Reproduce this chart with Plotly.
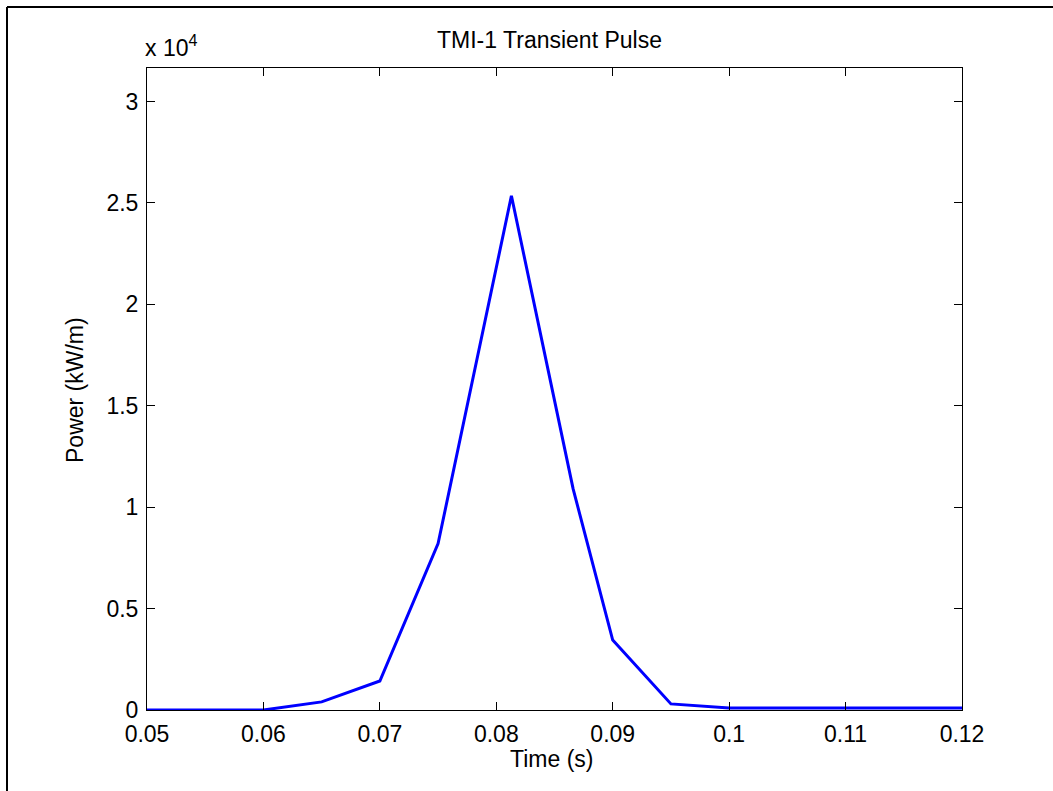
import plotly.graph_objects as go

# Data
time_s = [0.05, 0.06, 0.065, 0.07, 0.075, 0.0813, 0.0866, 0.09, 0.095, 0.1, 0.12]
power_kw_m = [0, 0, 400, 1430, 8200, 25350, 10900, 3450, 300, 100, 100]

x_ticks = [0.05, 0.06, 0.07, 0.08, 0.09, 0.10, 0.11, 0.12]
x_tick_text = ["0.05", "0.06", "0.07", "0.08", "0.09", "0.1", "0.11", "0.12"]
y_ticks = [0, 5000, 10000, 15000, 20000, 25000, 30000]
y_tick_text = ["0", "0.5", "1", "1.5", "2", "2.5", "3"]

W, H = 1053, 791
L, R, T, B = 147, 962, 68, 710

font = "Liberation Sans, Arial, Helvetica, sans-serif"
FS = 23

fig = go.Figure()
fig.add_trace(go.Scatter(x=time_s, y=power_kw_m, mode="lines",
                         line=dict(color="#0000FF", width=3),
                         showlegend=False))

axis_common = dict(showgrid=False, zeroline=False, showline=True,
                   linecolor="black", linewidth=1, mirror="ticks",
                   ticks="inside", ticklen=8, tickcolor="black", tickwidth=1,
                   tickfont=dict(family=font, size=FS, color="black"))

fig.update_xaxes(range=[0.05, 0.12], tickvals=x_ticks, ticktext=x_tick_text,
                 ticklabelstandoff=3, **axis_common)
fig.update_yaxes(range=[0, 31650], tickvals=y_ticks, ticktext=y_tick_text,
                 ticklabelstandoff=3, **axis_common)

def px(xp):
    return (xp - L) / (R - L)

def py(yp):
    return (B - yp) / (B - T)

annotations = [
    dict(text="TMI-1 Transient Pulse", x=px(549), y=py(40), xref="paper", yref="paper",
         showarrow=False, xanchor="center", yanchor="middle",
         font=dict(family=font, size=FS, color="black")),
    dict(text="x 10<sup>4</sup>", x=px(143), y=py(46), xref="paper", yref="paper",
         showarrow=False, xanchor="left", yanchor="middle",
         font=dict(family=font, size=FS, color="black")),
    dict(text="Time (s)", x=px(551), y=py(759), xref="paper", yref="paper",
         showarrow=False, xanchor="center", yanchor="middle",
         font=dict(family=font, size=FS, color="black")),
    dict(text="Power (kW/m)", x=px(75), y=py(390), xref="paper", yref="paper",
         showarrow=False, xanchor="center", yanchor="middle", textangle=-90,
         font=dict(family=font, size=FS, color="black")),
]

shapes = [
    dict(type="line", xref="paper", yref="paper",
         x0=px(7), y0=py(795), x1=px(7), y1=py(7),
         line=dict(color="black", width=2)),
    dict(type="line", xref="paper", yref="paper",
         x0=px(7), y0=py(7), x1=px(1060), y1=py(7),
         line=dict(color="black", width=2)),
]

fig.update_layout(width=W, height=H,
                  margin=dict(l=L, r=W - R, t=T, b=H - B, pad=0),
                  paper_bgcolor="white", plot_bgcolor="white",
                  annotations=annotations, shapes=shapes)

fig.write_html("out.html")
